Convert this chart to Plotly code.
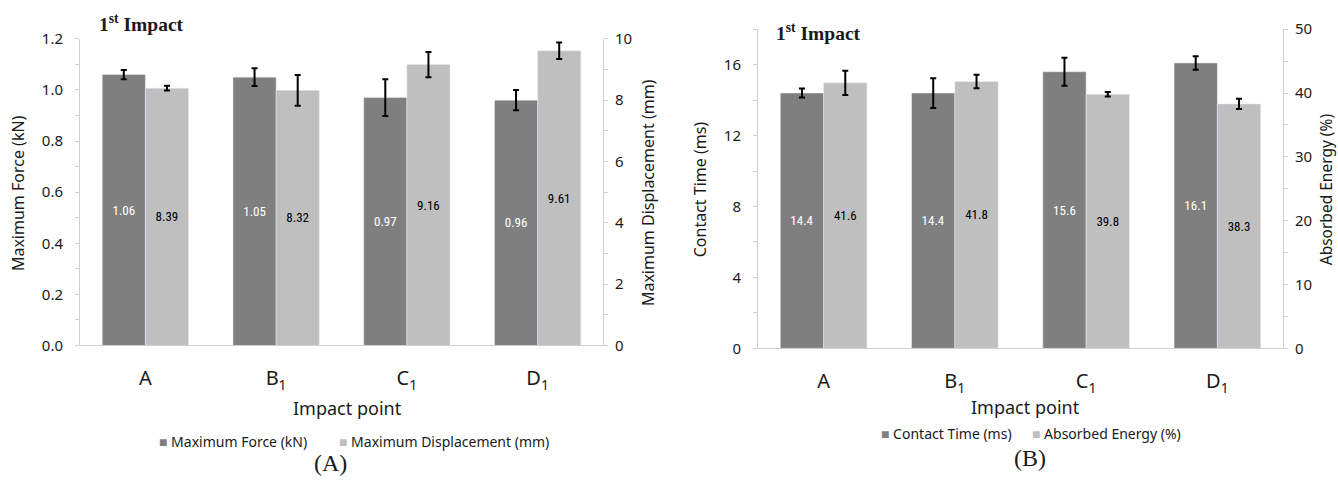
import plotly.graph_objects as go

W, H = 1338, 481

categories = ["A", "B1", "C1", "D1"]
cat_labels = ["A", "B<sub>1</sub>", "C<sub>1</sub>", "D<sub>1</sub>"]

max_force = [1.06, 1.05, 0.97, 0.96]
max_force_err = [0.018, 0.035, 0.072, 0.04]
max_disp = [8.39, 8.32, 9.16, 9.61]
max_disp_err = [0.08, 0.50, 0.41, 0.27]

contact_time = [14.4, 14.4, 15.6, 16.1]
contact_time_err = [0.25, 0.84, 0.79, 0.38]
absorbed_energy = [41.6, 41.8, 39.8, 38.3]
absorbed_energy_err = [1.9, 1.05, 0.35, 0.8]

DARK = "#7f7f7f"
LIGHT = "#bfbfbf"
AXIS = "#d0d0d0"
TXT = "#1a1a1a"
SANS = "Noto Sans, Open Sans, sans-serif"
SERIF = "Liberation Serif, DejaVu Serif, serif"
NARROW = "Liberation Sans Narrow, Roboto Condensed, Roboto, sans-serif"

BW = 0.33


def err(arr):
    return dict(type="data", array=arr, color="black", thickness=2, width=3, visible=True)


def bar(x, y, name, color, offset, errs, fmt, tcolor, xa, yaxis):
    return go.Bar(x=x, y=y, name=name, marker_color=color, width=BW, offset=offset,
                  error_y=err(errs), text=[fmt.format(v) for v in y], textposition="inside",
                  insidetextanchor="middle", textangle=0,
                  textfont=dict(color=tcolor, size=13, family=NARROW),
                  xaxis=xa, yaxis=yaxis, showlegend=False)


fig = go.Figure()
fig.add_trace(bar(categories, max_force, "Maximum Force (kN)", DARK, -BW, max_force_err,
                  "{:.2f}", "white", "x", "y"))
fig.add_trace(bar(categories, max_disp, "Maximum Displacement (mm)", LIGHT, 0, max_disp_err,
                  "{:.2f}", "black", "x", "y2"))
fig.add_trace(bar(categories, contact_time, "Contact Time (ms)", DARK, -BW, contact_time_err,
                  "{:.1f}", "white", "x2", "y3"))
fig.add_trace(bar(categories, absorbed_energy, "Absorbed Energy (%)", LIGHT, 0, absorbed_energy_err,
                  "{:.1f}", "black", "x2", "y4"))


def px_x(p):
    return p / W


def px_y(p):
    return 1 - p / H


xa_common = dict(type="category", range=[-0.5, 3.5], showline=True, linecolor=AXIS, linewidth=1,
                 tickvals=categories, ticktext=cat_labels, ticks="", showgrid=False, zeroline=False,
                 tickfont=dict(size=20, family=SANS, color=TXT), ticklabelstandoff=15)


def ya(rng, dtick, mdtick, fmt, side="left"):
    return dict(range=rng, dtick=dtick, tickformat=fmt, showline=True, linecolor=AXIS, linewidth=1,
                ticks="outside", ticklen=4, tickcolor=AXIS, showgrid=False, zeroline=False,
                minor=dict(dtick=mdtick, ticks="outside", ticklen=4, tickcolor=AXIS),
                tickfont=dict(size=15, family=SANS, color=TXT), side=side,
                ticklabelstandoff=(9 if side == "left" else 4))


fig.update_layout(
    width=W, height=H, margin=dict(l=0, r=0, t=0, b=0),
    paper_bgcolor="white", plot_bgcolor="white",
    barmode="overlay", showlegend=False,
    font=dict(family=SANS, color=TXT),
    xaxis=dict(domain=[px_x(80), px_x(603)], anchor="y", **xa_common),
    xaxis2=dict(domain=[px_x(758), px_x(1283)], anchor="y3", **xa_common),
    yaxis=dict(domain=[px_y(349), px_y(29)], anchor="x", **ya([0, 1.2], 0.2, 0.1, ".1f")),
    yaxis2=dict(overlaying="y", anchor="x", **ya([0, 10], 2, 1, "d", side="right")),
    yaxis3=dict(domain=[px_y(352), px_y(19)], anchor="x2", **ya([0, 18], 4, 2, "d")),
    yaxis4=dict(overlaying="y3", anchor="x2", **ya([0, 50], 10, 5, "d", side="right")),
)

annotations = []


def add(text, x, y, size, fam=SANS, ang=0, xanchor="center"):
    annotations.append(dict(text=text, x=px_x(x), y=px_y(y), xref="paper", yref="paper",
                            xanchor=xanchor, yanchor="middle", showarrow=False, textangle=ang,
                            font=dict(size=size, family=fam, color=TXT)))


add("Maximum Force (kN)", 18, 190, 16, ang=-90)
add("Maximum Displacement (mm)", 648, 190, 16, ang=-90)
add("Contact Time (ms)", 700, 186, 16, ang=-90)
add("Absorbed Energy (%)", 1326, 186, 15.5, ang=-90)
add("Impact point", 348, 414, 18)
add("Impact point", 1025, 413, 18)
add("(A)", 330, 472, 24, fam=SERIF)
add("(B)", 1030, 466, 24, fam=SERIF)
add("<b>1<sup>st</sup> Impact</b>", 97, 13, 19.5, fam=SERIF, xanchor="left")
add("<b>1<sup>st</sup> Impact</b>", 774, 22, 19.5, fam=SERIF, xanchor="left")


# legends
def legend_item(name, color, x, y):
    annotations.append(dict(
        text=f'<span style="color:{color}">■</span> {name}', x=px_x(x), y=px_y(y),
        xref="paper", yref="paper", xanchor="left", yanchor="middle", showarrow=False,
        font=dict(size=14, family=SANS, color=TXT)))


legend_item("Maximum Force (kN)", DARK, 157, 449)
legend_item("Maximum Displacement (mm)", LIGHT, 337, 449)
legend_item("Contact Time (ms)", DARK, 879, 441)
legend_item("Absorbed Energy (%)", LIGHT, 1030, 441)

fig.update_layout(annotations=annotations)

fig.write_html("out.html")
